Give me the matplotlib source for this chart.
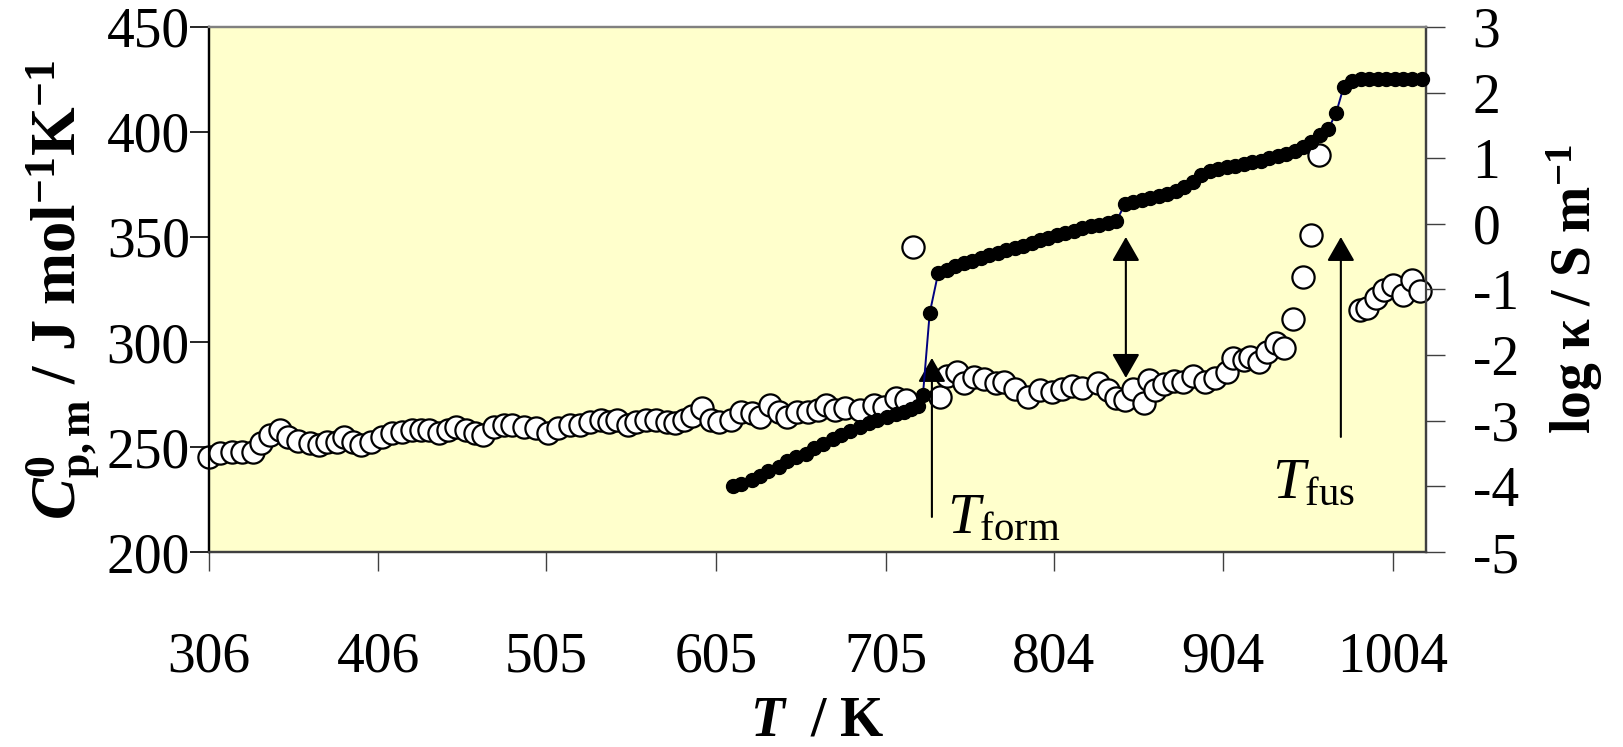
import matplotlib
matplotlib.use("Agg")
import matplotlib.pyplot as plt

# heat capacity (open circles, left axis)
t_cp = [306, 313, 320, 326, 332, 337, 342, 348, 353, 359, 366, 371, 376, 382, 386, 391,
        396, 402, 408, 414, 420, 426, 431, 436, 442, 447, 452, 458, 463, 468, 474, 480,
        485, 492, 499, 506, 512, 519, 525, 531, 537, 542, 547, 553, 558, 564, 570, 576,
        581, 586, 591, 597, 602, 607, 614, 620, 626, 631, 637, 642, 647, 653, 659, 665,
        670, 675, 681, 690, 698, 704, 711, 717, 721, 737, 741, 747, 751, 757, 763, 770,
        775, 781, 789, 796, 803, 809, 815, 821, 830, 836, 841, 846, 851, 857, 860, 864,
        869, 875, 880, 886, 893, 899, 906, 910, 916, 920, 925, 930, 935, 940, 945, 951,
        956, 960.5, 984.5, 989, 994, 999, 1004, 1010, 1015, 1020]
cp = [245.2, 247, 247.6, 247.6, 247.6, 252, 255.7, 258, 254.8, 253, 252, 251, 252.4, 252.4, 254.8, 252.4,
      251, 252.4, 254.8, 256.7, 257, 258, 258, 258, 256.7, 258, 259.5, 258, 256.7, 255.7, 259.5, 260.5,
      260.5, 259.5, 259, 256.7, 259, 260.5, 260.5, 262, 262.9, 262, 262.9, 260.5, 262, 262.9, 262.9, 262,
      261.5, 262.9, 265, 268.6, 262.9, 262, 262.9, 266.7, 266, 264.3, 270, 266.7, 264.3, 266.7, 266.7, 267.6,
      270, 267.6, 268.6, 267.6, 270, 269, 273.3, 272.4, 345.2, 273.8, 284, 285.7, 280.5, 283.3, 282.5, 280.5,
      281, 277.5, 274, 277, 276.2, 277.5, 279, 278, 280.5, 277, 273.5, 272.4, 277.5, 271, 282, 277,
      280, 281.5, 281, 284, 281, 283, 285.7, 292.4, 291.4, 292.9, 290.5, 295.3, 299.5, 297.1, 311, 331,
      351, 389, 315.4, 316.4, 321, 324.7, 327.2, 322.4, 329.7, 324.2]

# conductivity (filled dots, right axis)
t_k = [615, 620, 626, 631, 636, 642, 647, 652, 658, 663, 668, 674, 679, 684, 690, 695,
       700, 706, 711, 716, 720, 724, 727, 731, 736, 741, 746, 751, 756, 761, 766, 771,
       776, 781, 786, 791, 796, 801, 806, 811, 816, 821, 826, 831, 836, 841, 846, 851,
       856, 861, 866, 871, 876, 881, 886, 891, 896, 901, 906, 911, 916, 921, 926, 931,
       936, 941, 946, 951, 956, 961, 966, 970.5, 975, 980, 985, 990, 995, 1000, 1005, 1010,
       1015, 1021]
logk = [-4.00, -3.96, -3.90, -3.84, -3.76, -3.70, -3.62, -3.55, -3.50, -3.42, -3.36, -3.28, -3.22, -3.16, -3.10, -3.04,
        -2.99, -2.94, -2.90, -2.86, -2.82, -2.78, -2.61, -1.36, -0.75, -0.70, -0.64, -0.59, -0.56, -0.52, -0.48, -0.44,
        -0.40, -0.37, -0.33, -0.29, -0.25, -0.21, -0.17, -0.14, -0.11, -0.07, -0.04, -0.01, 0.02, 0.04, 0.30, 0.33,
        0.36, 0.39, 0.42, 0.45, 0.50, 0.56, 0.64, 0.74, 0.80, 0.84, 0.86, 0.88, 0.91, 0.94, 0.96, 1.00,
        1.03, 1.07, 1.11, 1.17, 1.25, 1.35, 1.45, 1.69, 2.09, 2.18, 2.20, 2.20, 2.20, 2.20, 2.20, 2.20,
        2.20, 2.20]

x_ticks = [306, 406, 505, 605, 705, 804, 904, 1004]

plt.rcParams["font.family"] = "Liberation Serif"
plt.rcParams["mathtext.fontset"] = "custom"
plt.rcParams["mathtext.rm"] = "Liberation Serif"
plt.rcParams["mathtext.it"] = "Liberation Serif:italic"
plt.rcParams["mathtext.bf"] = "Liberation Serif:bold"
plt.rcParams["mathtext.bfit"] = "Liberation Serif:bold:italic"
plt.rcParams["axes.unicode_minus"] = False

fs = 40

fig = plt.figure(figsize=(16.24, 7.47), dpi=100)
ax = fig.add_axes([0.1284, 0.261, 0.7497, 0.7029])
ax.set_facecolor("#FFFFCC")
ax2 = ax.twinx()

ax.plot(t_cp, cp, "o", ms=16, mfc="white", mec="black", mew=1.6, clip_on=False, zorder=3)
ax2.plot(t_k, logk, "-", color="#000080", lw=1.4, marker="o", ms=10,
         mfc="black", mec="black", clip_on=False, zorder=3)

ax.set_xlim(306, 1023.5)
ax.set_ylim(200, 450)
ax2.set_ylim(-5, 3)
ax.set_xticks(x_ticks)
ax.set_yticks(range(200, 451, 50))
ax2.set_yticks(range(-5, 4))

for a in (ax, ax2):
    for s in a.spines.values():
        s.set_linewidth(1.6)
    a.spines["top"].set_color("#808080")
    a.spines["bottom"].set_color("#404040")
    a.spines["right"].set_color("#404040")
    a.spines["left"].set_color("black")

ax.tick_params(axis="x", direction="out", length=13.5, width=1, labelsize=fs, pad=44, colors="#404040", labelcolor="black")
ax.tick_params(axis="y", direction="out", length=13.5, width=1.2, labelsize=fs, pad=0)
ax2.tick_params(axis="y", direction="out", length=13.5, width=1, labelsize=fs, pad=20, colors="#404040", labelcolor="black")

ax.set_xlabel(r"$\mathbfit{T}\mathbf{\ \ /\ K}$", fontsize=fs, labelpad=8)
ax.set_ylabel(r"$\mathbfit{C}^{\mathbf{0}}_{\mathbf{p,m}}\mathbf{\ /\ J\ mol^{-1}K^{-1}}$", fontsize=45, labelpad=4)
ax2.set_ylabel(r"$\mathbf{log\ \kappa\ /\ S\ m^{-1}}$", fontsize=fs, labelpad=18)

arrow = dict(arrowstyle="-|>,head_length=0.75,head_width=0.43", mutation_scale=20,
             lw=1.5, color="black", shrinkA=0, shrinkB=0)
ax.annotate("", xy=(732.3, 292.4), xytext=(732.3, 216.7), arrowprops=arrow, zorder=5)
ax.annotate("", xy=(973.3, 350), xytext=(973.3, 254.8), arrowprops=arrow, zorder=5)
arrow2 = dict(arrow, arrowstyle="<|-|>,head_length=0.75,head_width=0.43")
ax.annotate("", xy=(846.6, 350), xytext=(846.6, 282.9), arrowprops=arrow2, zorder=5)

ax.text(741, 209, r"$T_{\rm form}$", fontsize=42, ha="left", va="baseline", zorder=6)
ax.text(933, 225.7, r"$T_{\rm fus}$", fontsize=42, ha="left", va="baseline", zorder=6)

fig.savefig("out.png", dpi=100)
